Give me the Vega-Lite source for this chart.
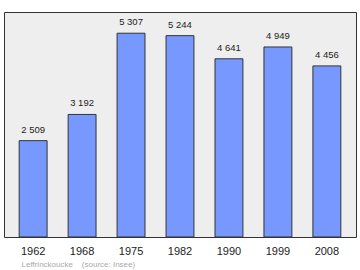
{
  "$schema": "https://vega.github.io/schema/vega-lite/v6.json",
  "width": 352,
  "height": 225,
  "autosize": {"type": "none"},
  "padding": {"left": 4, "top": 12, "right": 4, "bottom": 33},
  "background": "white",
  "config": {
    "font": "Liberation Sans",
    "view": {"fill": "#eeeeee", "stroke": "#333333", "strokeWidth": 1}
  },
  "data": {
    "values": [
      {"year": "1962", "pop": 2509, "label": "2 509"},
      {"year": "1968", "pop": 3192, "label": "3 192"},
      {"year": "1975", "pop": 5307, "label": "5 307"},
      {"year": "1982", "pop": 5244, "label": "5 244"},
      {"year": "1990", "pop": 4641, "label": "4 641"},
      {"year": "1999", "pop": 4949, "label": "4 949"},
      {"year": "2008", "pop": 4456, "label": "4 456"}
    ]
  },
  "encoding": {
    "x": {
      "field": "year",
      "type": "nominal",
      "sort": null,
      "scale": {"paddingInner": 0.43, "paddingOuter": 0.31},
      "axis": {
        "domain": false,
        "ticks": false,
        "labelAngle": 0,
        "labelFontSize": 11,
        "labelColor": "#222222",
        "labelPadding": 8,
        "title": "Leffrinckoucke\u00a0\u00a0\u00a0\u00a0(source: Insee)",
        "titleFontSize": 8,
        "titleFontWeight": "normal",
        "titleColor": "#aaaaaa",
        "titleAnchor": "start",
        "titleAlign": "left",
        "titleX": 17,
        "titlePadding": 4
      }
    },
    "y": {
      "field": "pop",
      "type": "quantitative",
      "scale": {"domain": [0, 5860], "nice": false},
      "axis": null
    }
  },
  "layer": [
    {
      "mark": {"type": "bar", "fill": "#7799ff", "stroke": "#333333", "strokeWidth": 1}
    },
    {
      "mark": {"type": "text", "baseline": "alphabetic", "dy": -8, "fontSize": 9.5, "fill": "#222222"},
      "encoding": {"text": {"field": "label"}}
    }
  ]
}
